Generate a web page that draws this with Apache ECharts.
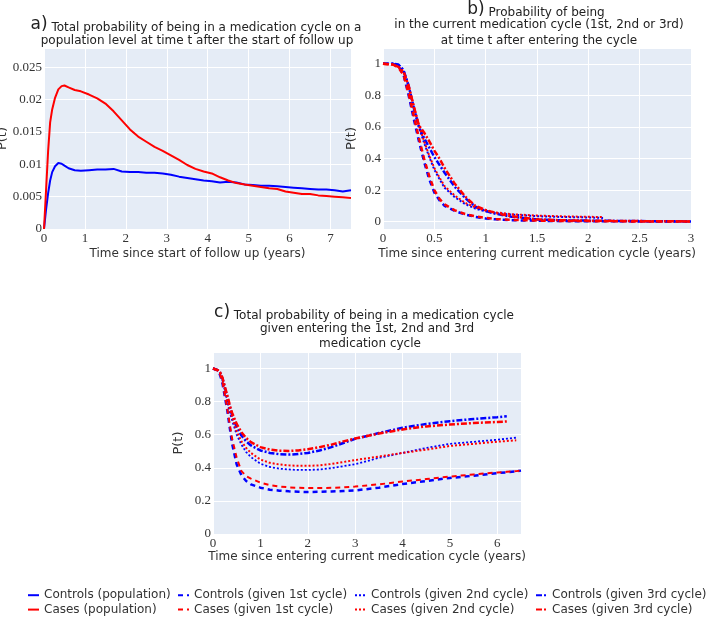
<!DOCTYPE html>
<html><head><meta charset="utf-8">
<script src="https://cdn.jsdelivr.net/npm/echarts@6/dist/echarts.min.js"></script>
<style>html,body{margin:0;padding:0;background:#fff}#chart{width:708px;height:617px}</style>
</head><body><div id="chart"></div>
<script>
// ---------- Panel a: population level ----------
const tA = [0, 0.05, 0.1, 0.15, 0.2, 0.27, 0.35, 0.43, 0.5, 0.6, 0.75, 0.9, 1.1, 1.3, 1.5, 1.7, 1.9, 2.1, 2.3, 2.5, 2.7, 2.9, 3.1, 3.3, 3.5, 3.7, 3.9, 4.1, 4.3, 4.5, 4.7, 4.9, 5.1, 5.3, 5.5, 5.7, 5.9, 6.1, 6.3, 6.5, 6.7, 6.9, 7.1, 7.3, 7.5];
const controlsPop = [0, 0.003, 0.0055, 0.0075, 0.0088, 0.0097, 0.0102, 0.0101, 0.0098, 0.0094, 0.0091, 0.0090, 0.0091, 0.0092, 0.0092, 0.0093, 0.0089, 0.0088, 0.0088, 0.0087, 0.0087, 0.0086, 0.0084, 0.0081, 0.0079, 0.0077, 0.0075, 0.0074, 0.0072, 0.0073, 0.0072, 0.0069, 0.0068, 0.0067, 0.0067, 0.0066, 0.0065, 0.0064, 0.0063, 0.0062, 0.0061, 0.0061, 0.0060, 0.0058, 0.0060];
const casesPop = [0, 0.006, 0.012, 0.0165, 0.0185, 0.0203, 0.0216, 0.0221, 0.0222, 0.0219, 0.0215, 0.0213, 0.0208, 0.0202, 0.0194, 0.0182, 0.0168, 0.0154, 0.0143, 0.0135, 0.0127, 0.0121, 0.0114, 0.0107, 0.0099, 0.0093, 0.0089, 0.0086, 0.0080, 0.0075, 0.0071, 0.0069, 0.0067, 0.0065, 0.0063, 0.0062, 0.0058, 0.0056, 0.0054, 0.0054, 0.0052, 0.0051, 0.0050, 0.0049, 0.0048];

// ---------- Panel b: current cycle ----------
const tB = [0, 0.1, 0.15, 0.2, 0.25, 0.3, 0.35, 0.4, 0.45, 0.5, 0.55, 0.6, 0.7, 0.8, 0.9, 1.0, 1.1, 1.25, 1.5, 1.75, 2.0, 2.15, 2.5, 3.0];
const bControls1 = [1, 1, 0.985, 0.93, 0.80, 0.65, 0.51, 0.38, 0.27, 0.185, 0.135, 0.10, 0.068, 0.046, 0.031, 0.021, 0.015, 0.010, 0.006, 0.004, 0.003, 0.003, 0.002, 0.001];
const bCases1 = [1, 0.995, 0.975, 0.93, 0.81, 0.67, 0.53, 0.40, 0.29, 0.20, 0.145, 0.11, 0.072, 0.049, 0.034, 0.024, 0.017, 0.012, 0.007, 0.005, 0.004, 0.003, 0.002, 0.001];
const bControls2 = [1, 1, 0.995, 0.96, 0.86, 0.72, 0.60, 0.50, 0.41, 0.33, 0.27, 0.215, 0.155, 0.112, 0.083, 0.066, 0.055, 0.045, 0.035, 0.030, 0.027, 0.024, null, null];
const bCases2 = [1, 0.995, 0.98, 0.95, 0.86, 0.73, 0.61, 0.51, 0.42, 0.34, 0.28, 0.225, 0.165, 0.12, 0.09, 0.071, 0.059, 0.048, 0.039, 0.034, 0.031, 0.030, null, null];
const bControls3 = [1, 1, 0.995, 0.96, 0.86, 0.72, 0.60, 0.53, 0.47, 0.41, 0.36, 0.31, 0.22, 0.15, 0.095, 0.068, 0.05, 0.032, 0.014, 0.009, 0.007, 0.006, 0.004, 0.002];
const bCases3 = [1, 0.995, 0.98, 0.95, 0.86, 0.73, 0.61, 0.565, 0.51, 0.45, 0.40, 0.34, 0.24, 0.16, 0.10, 0.075, 0.055, 0.035, 0.015, 0.009, 0.007, 0.006, 0.004, 0.002];

// ---------- Panel c: total given entering cycle ----------
const tC = [0, 0.1, 0.15, 0.2, 0.25, 0.3, 0.35, 0.4, 0.5, 0.6, 0.7, 0.8, 1.0, 1.2, 1.4, 1.6, 1.8, 2.0, 2.25, 2.5, 2.75, 3.0, 3.5, 4.0, 4.5, 5.0, 5.5, 6.0, 6.2, 6.4, 6.5];
const cControls1 = [1, 0.99, 0.96, 0.91, 0.83, 0.75, 0.65, 0.55, 0.42, 0.355, 0.32, 0.30, 0.28, 0.268, 0.262, 0.258, 0.255, 0.254, 0.255, 0.257, 0.26, 0.263, 0.28, 0.302, 0.32, 0.339, 0.352, 0.368, 0.373, 0.379, 0.383];
const cCases1 = [1, 0.99, 0.965, 0.92, 0.84, 0.76, 0.67, 0.58, 0.46, 0.38, 0.35, 0.335, 0.31, 0.295, 0.287, 0.282, 0.279, 0.278, 0.278, 0.279, 0.282, 0.287, 0.30, 0.317, 0.332, 0.347, 0.36, 0.372, 0.376, 0.380, 0.384];
const cControls2 = [1, 0.99, 0.97, 0.93, 0.87, 0.80, 0.74, 0.69, 0.60, 0.54, 0.495, 0.465, 0.425, 0.405, 0.395, 0.39, 0.387, 0.387, 0.39, 0.398, 0.41, 0.422, 0.46, 0.49, 0.52, 0.545, 0.557, 0.57, 0.576, 0.582, null];
const cCases2 = [1, 0.99, 0.975, 0.94, 0.88, 0.82, 0.76, 0.71, 0.62, 0.56, 0.52, 0.49, 0.45, 0.43, 0.42, 0.415, 0.412, 0.412, 0.415, 0.423, 0.435, 0.447, 0.468, 0.49, 0.51, 0.532, 0.545, 0.558, 0.562, 0.566, null];
const cControls3 = [1, 0.99, 0.975, 0.94, 0.885, 0.83, 0.77, 0.72, 0.645, 0.595, 0.56, 0.535, 0.505, 0.49, 0.482, 0.48, 0.483, 0.49, 0.505, 0.525, 0.55, 0.575, 0.61, 0.642, 0.665, 0.682, 0.695, 0.706, 0.712, null, null];
const cCases3 = [1, 0.99, 0.978, 0.945, 0.89, 0.84, 0.785, 0.735, 0.665, 0.615, 0.58, 0.555, 0.525, 0.51, 0.503, 0.502, 0.505, 0.512, 0.525, 0.54, 0.56, 0.577, 0.607, 0.632, 0.65, 0.662, 0.671, 0.677, 0.68, null, null];

const names = ['Controls (population)', 'Cases (population)', 'Controls (given 1st cycle)', 'Cases (given 1st cycle)', 'Controls (given 2nd cycle)', 'Cases (given 2nd cycle)', 'Controls (given 3rd cycle)', 'Cases (given 3rd cycle)'];

const BLUE = '#0000ff', RED = '#ff0000';
const DASH = [5, 4], DOT = [2, 2], DASHDOT = [6, 2, 2, 2];
const SANS = 'DejaVu Sans', SERIF = 'Liberation Serif', TXT = '#333';

function pairs(t, v) { return t.map((x, i) => [x, v[i]]).filter(p => p[1] != null); }

function mk(name, gi, t, v, color, type, width) {
  return { name, type: 'line', xAxisIndex: gi, yAxisIndex: gi, data: pairs(t, v), symbol: 'none',
    lineStyle: { color, width, type }, itemStyle: { color }, animation: false };
}

function xAx(gi, max, interval, name, gap, showMax) {
  return { type: 'value', gridIndex: gi, min: 0, max, interval, name, nameLocation: 'middle', nameGap: gap,
    nameTextStyle: { fontFamily: SANS, fontSize: 12, color: TXT },
    axisLine: { show: false }, axisTick: { show: false },
    axisLabel: { fontFamily: SERIF, fontSize: 13, color: TXT, margin: 3, showMaxLabel: showMax, showMinLabel: true },
    splitLine: { show: true, lineStyle: { color: '#ffffff', width: 1 } } };
}
function yAx(gi, min, max, interval, gap) {
  const a = { type: 'value', gridIndex: gi, min, max, name: 'P(t)', nameLocation: 'middle', nameGap: gap,
    nameTextStyle: { fontFamily: SANS, fontSize: 13, color: TXT },
    axisLine: { show: false }, axisTick: { show: false },
    axisLabel: { fontFamily: SERIF, fontSize: 13, color: TXT, margin: 2, showMaxLabel: false, showMinLabel: min === 0 },
    splitLine: { show: true, lineStyle: { color: '#ffffff', width: 1 } } };
  if (interval) a.interval = interval; else a.splitNumber = 5;
  return a;
}

const gridBase = { show: true, backgroundColor: '#e5ecf6', borderWidth: 0, containLabel: false, outerBoundsMode: 'none' };

function legend(left, data) {
  return { left, top: 588, orient: 'vertical', padding: 0, itemGap: 0, itemWidth: 11, itemHeight: 8,
    data, selectedMode: false, itemStyle: { opacity: 0 },
    textStyle: { fontFamily: SANS, fontSize: 12, color: TXT, lineHeight: 14.4 } };
}

function titleLine(x, y, text, big) {
  const rich = { b: { fontFamily: SANS, fontSize: 17, fill: '#222', verticalAlign: 'bottom' },
                 n: { fontFamily: SANS, fontSize: 12, fill: '#222', verticalAlign: 'bottom' } };
  return { type: 'text', x, y, silent: true,
    style: { text: big ? '{b|' + big + '}{n| ' + text + '}' : '{n|' + text + '}', rich, textAlign: 'center', textVerticalAlign: 'middle',
      fontFamily: SANS, fontSize: 12, fill: '#222' } };
}

const option = {
  animation: false,
  backgroundColor: '#ffffff',
  grid: [
    Object.assign({ left: 44, top: 48, width: 307, height: 181 }, gridBase),
    Object.assign({ left: 383, top: 48, width: 308, height: 181 }, gridBase),
    Object.assign({ left: 213, top: 352, width: 308, height: 182 }, gridBase)
  ],
  xAxis: [
    xAx(0, 7.5, 1, 'Time since start of follow up (years)', 19, false),
    xAx(1, 3, 0.5, 'Time since entering current medication cycle (years)', 19, true),
    xAx(2, 6.5, 1, 'Time since entering current medication cycle (years)', 16, false)
  ],
  yAxis: [
    yAx(0, 0, 0.028, 0.005, 30),
    yAx(1, -0.046, 1.1, null, 25),
    yAx(2, 0, 1.1, 0.2, 28)
  ],
  legend: [
    legend(27, [names[0], names[1]]),
    legend(177, [names[2], names[3]]),
    legend(354, [names[4], names[5]]),
    legend(535, [names[6], names[7]])
  ],
  graphic: [
    titleLine(196, 25, 'Total probability of being in a medication cycle on a', 'a)'),
    titleLine(197, 41, 'population level at time t after the start of follow up'),
    titleLine(536, 10, 'Probability of being', 'b)'),
    titleLine(539, 25, 'in the current medication cycle (1st, 2nd or 3rd)'),
    titleLine(539, 41, 'at time t after entering the cycle'),
    titleLine(364, 313, 'Total probability of being in a medication cycle', 'c)'),
    titleLine(367, 329, 'given entering the 1st, 2nd and 3rd'),
    titleLine(370, 344, 'medication cycle')
  ],
  series: [
    mk(names[0], 0, tA, controlsPop, BLUE, 'solid', 2),
    mk(names[1], 0, tA, casesPop, RED, 'solid', 2),
    mk(names[2], 1, tB, bControls1, BLUE, DASH, 2.5),
    mk(names[4], 1, tB, bControls2, BLUE, DOT, 2),
    mk(names[6], 1, tB, bControls3, BLUE, DASHDOT, 2.5),
    mk(names[3], 1, tB, bCases1, RED, DASH, 2.5),
    mk(names[5], 1, tB, bCases2, RED, DOT, 2),
    mk(names[7], 1, tB, bCases3, RED, DASHDOT, 2.5),
    mk(names[2], 2, tC, cControls1, BLUE, DASH, 2.5),
    mk(names[4], 2, tC, cControls2, BLUE, DOT, 1.8),
    mk(names[6], 2, tC, cControls3, BLUE, DASHDOT, 2.5),
    mk(names[3], 2, tC, cCases1, RED, DASH, 2),
    mk(names[5], 2, tC, cCases2, RED, DOT, 2),
    mk(names[7], 2, tC, cCases3, RED, DASHDOT, 2.5)
  ]
};

const chart = echarts.init(document.getElementById('chart'), null, { renderer: 'canvas' });
chart.setOption(option);
</script>
</body></html>
